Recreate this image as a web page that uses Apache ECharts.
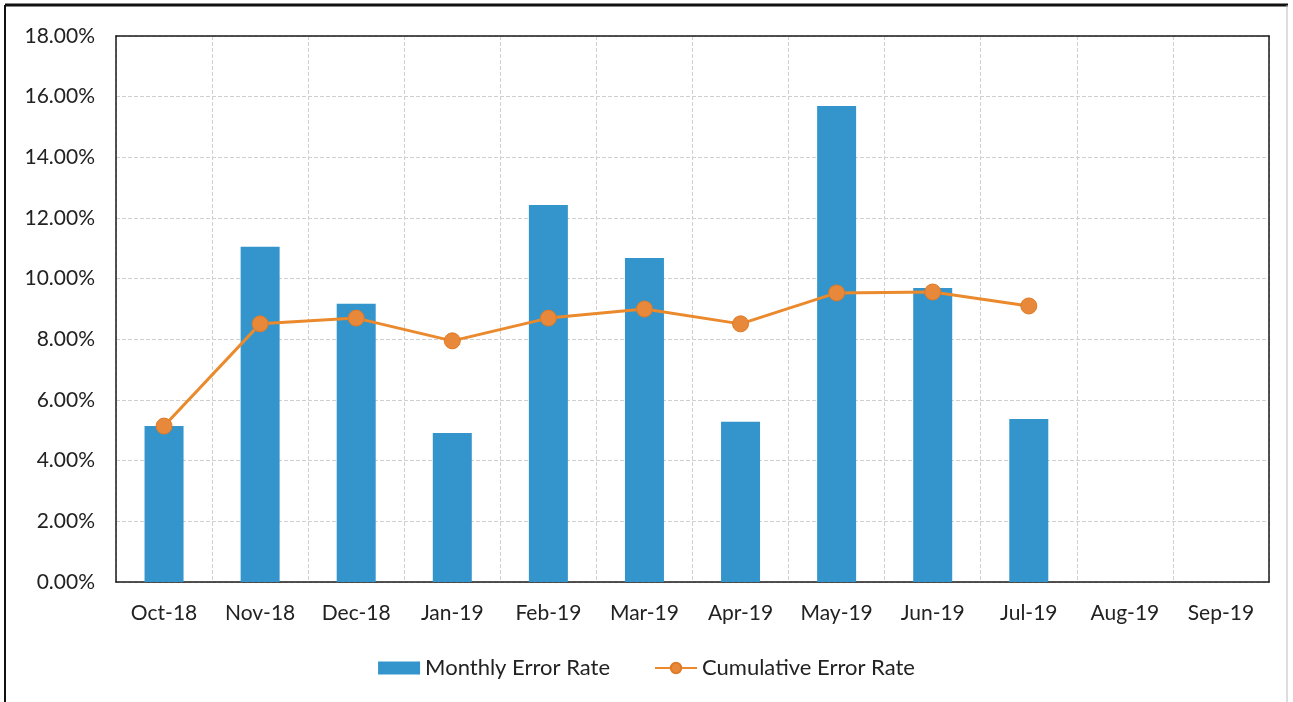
<!DOCTYPE html>
<html>
<head>
<meta charset="utf-8">
<script src="https://cdn.jsdelivr.net/npm/echarts@6/dist/echarts.min.js"></script>
<style>html,body{margin:0;padding:0;background:#fff;}#c{width:1293px;height:702px;}</style>
</head>
<body>
<div id="c"></div>
<script>
const categories = ['Oct-18','Nov-18','Dec-18','Jan-19','Feb-19','Mar-19','Apr-19','May-19','Jun-19','Jul-19','Aug-19','Sep-19'];
const monthlyErrorRate = [5.14, 11.05, 9.17, 4.91, 12.43, 10.68, 5.28, 15.69, 9.69, 5.37, null, null];
const cumulativeErrorRate = [5.14, 8.51, 8.70, 7.95, 8.70, 9.00, 8.51, 9.53, 9.56, 9.10, null, null];
const yTicks = { min: 0, max: 18, interval: 2 };

const font = 'Lato, "Open Sans", sans-serif';
const frameAxis = { show: true, onZero: false, lineStyle: { color: '#1a1a1a', width: 1.5 } };
const chart = echarts.init(document.getElementById('c'));
chart.setOption({
  animation: false,
  backgroundColor: '#fff',
  graphic: [
    { type: 'line', shape: { x1: 5, y1: 5, x2: 1288, y2: 5 }, style: { stroke: '#111', lineWidth: 3 } },
    { type: 'line', shape: { x1: 5, y1: 5, x2: 5, y2: 702 }, style: { stroke: '#111', lineWidth: 2 } },
    { type: 'line', shape: { x1: 1287, y1: 5, x2: 1287, y2: 702 }, style: { stroke: '#bbb', lineWidth: 1 } }
  ],
  grid: { left: 116, top: 36, right: 24, bottom: 120 },
  legend: {
    top: 652,
    left: 'center',
    itemGap: 44,
    itemWidth: 42,
    itemHeight: 13,
    textStyle: { fontFamily: font, fontSize: 22, color: '#222' },
    data: [
      { name: 'Monthly Error Rate', icon: 'rect' },
      { name: 'Cumulative Error Rate' }
    ]
  },
  xAxis: [{
    type: 'category',
    data: categories,
    boundaryGap: true,
    axisLine: frameAxis,
    axisTick: { show: false },
    axisLabel: { fontFamily: font, fontSize: 21, color: '#222', margin: 21 },
    splitLine: { show: true, lineStyle: { color: '#d0d0d0', type: 'dashed' } }
  }, {
    type: 'category',
    data: categories,
    position: 'top',
    axisLine: frameAxis,
    axisTick: { show: false },
    axisLabel: { show: false },
    splitLine: { show: false }
  }],
  yAxis: [{
    type: 'value',
    min: yTicks.min, max: yTicks.max, interval: yTicks.interval,
    axisLine: frameAxis,
    axisTick: { show: false },
    axisLabel: { fontFamily: font, fontSize: 21, color: '#222', margin: 21, formatter: v => v.toFixed(2) + '%' },
    splitLine: { show: true, lineStyle: { color: '#d0d0d0', type: 'dashed' } }
  }, {
    type: 'value',
    position: 'right',
    min: yTicks.min, max: yTicks.max, interval: yTicks.interval,
    axisLine: frameAxis,
    axisTick: { show: false },
    axisLabel: { show: false },
    splitLine: { show: false }
  }],
  series: [
    {
      name: 'Monthly Error Rate',
      type: 'bar',
      data: monthlyErrorRate,
      barWidth: 39,
      itemStyle: { color: '#3395cb' }
    },
    {
      name: 'Cumulative Error Rate',
      type: 'line',
      data: cumulativeErrorRate,
      symbol: 'circle',
      symbolSize: 16,
      lineStyle: { color: '#ea8a2c', width: 3 },
      itemStyle: { color: '#e8883a', borderColor: '#e07a25', borderWidth: 1 }
    }
  ]
});
</script>
</body>
</html>
